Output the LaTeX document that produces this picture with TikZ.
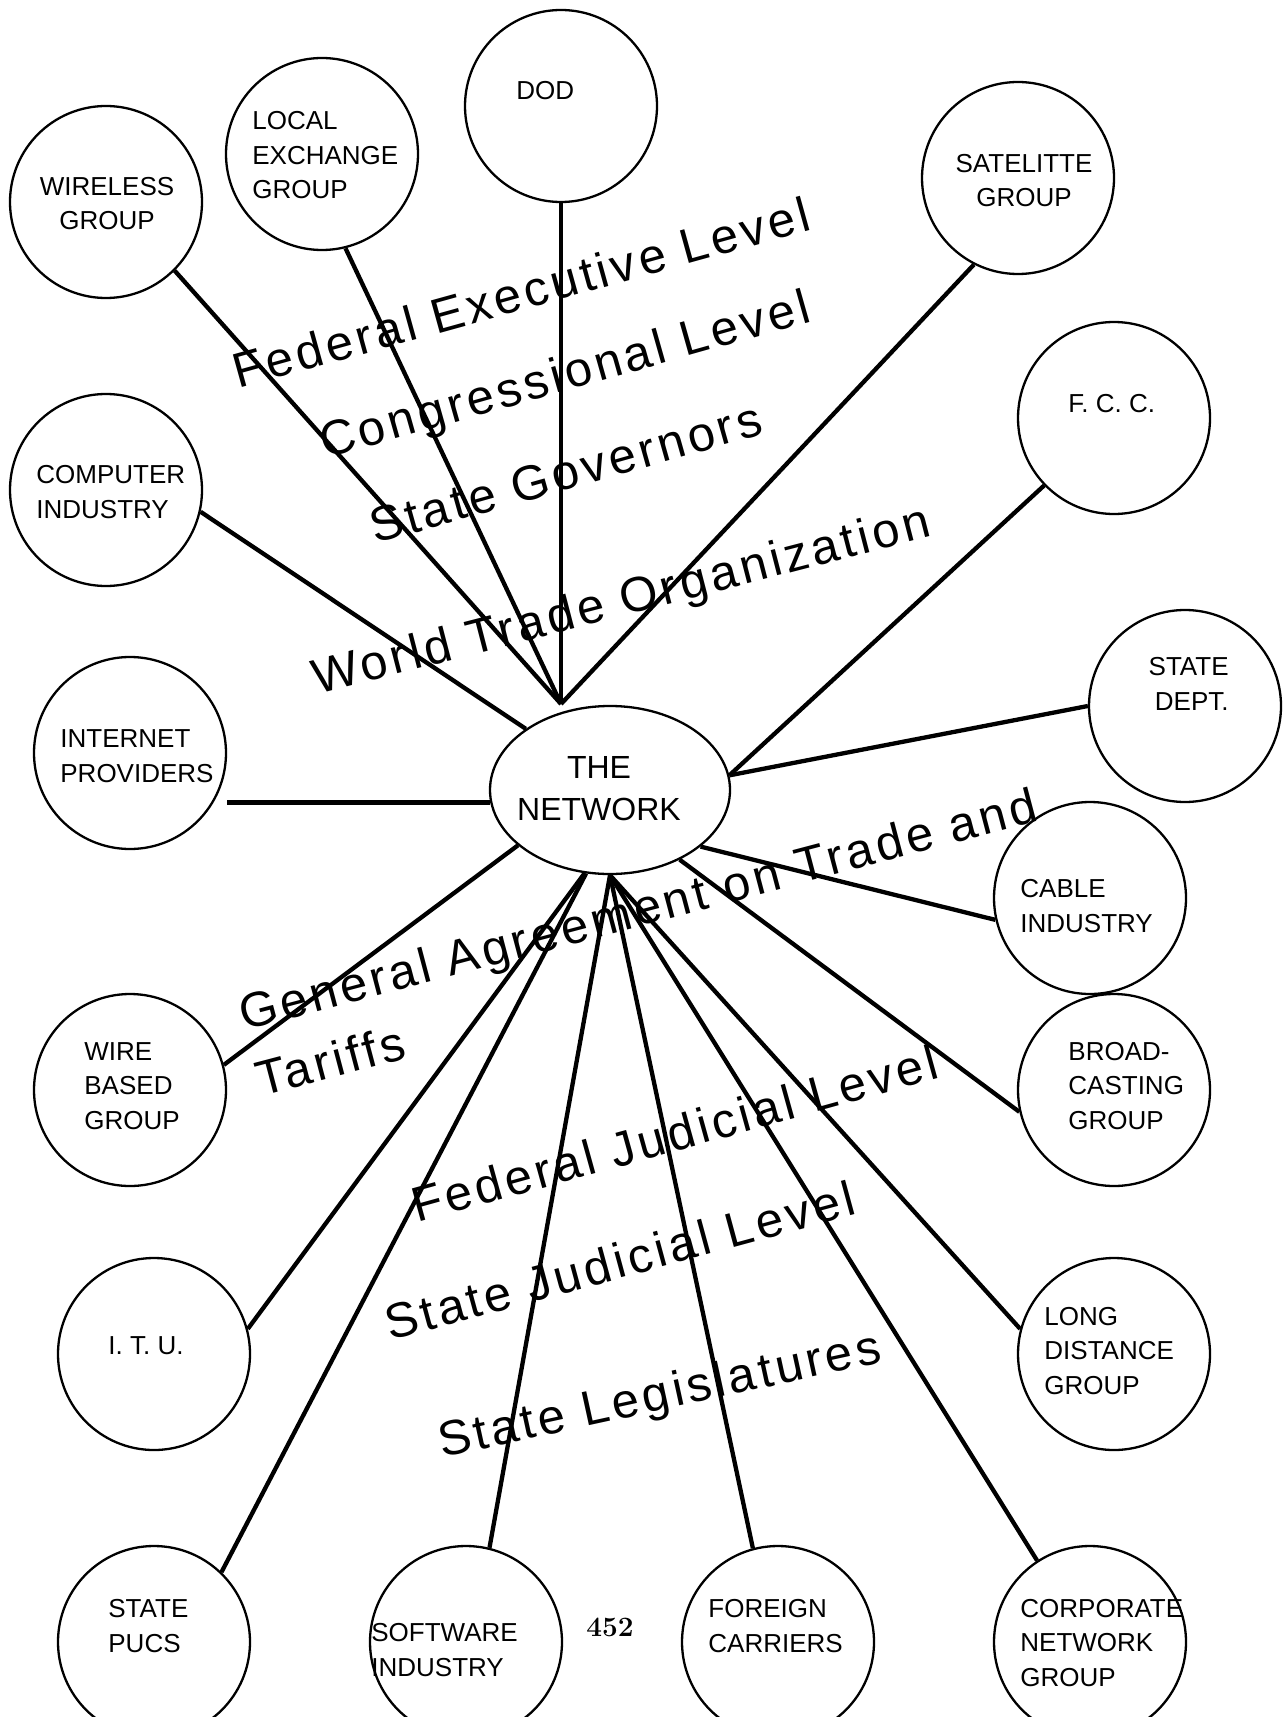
\documentclass[tikz,border=0pt]{standalone}
\usepackage{fontspec}
\newfontfamily\orgfont{Liberation Sans}
\newfontfamily\levelfont{Liberation Sans}[LetterSpace=7.5]
\usetikzlibrary{shapes.geometric}
\begin{document}
\begin{tikzpicture}[x=0.5pt,y=-0.5pt,
  org/.style={circle,draw,line width=1.15pt,minimum size=96pt,inner sep=0pt},
  orgtext/.style={font=\orgfont\fontsize{13}{17.25}\selectfont,align=left,inner sep=0pt,anchor=base west},
  link/.style={line width=2.15pt},
  levels/.style={font=\levelfont\fontsize{24.5}{34}\selectfont,inner sep=0pt,anchor=base west}]
\useasboundingbox (0,0) rectangle (1286,1717);
\node[org] (wireless) at (106,202) {};
\node[org] (local) at (322,154) {};
\node[org] (dod) at (561,106) {};
\node[org] (satellite) at (1018,178) {};
\node[org] (fcc) at (1114,418) {};
\node[org] (statedept) at (1185,706) {};
\node[org] (computer) at (106,490) {};
\node[org] (internet) at (130,753) {};
\node[ellipse,draw,line width=1.15pt,minimum width=120pt,minimum height=84pt,inner sep=0pt] (net) at (610,790) {};
\node[org] (cable) at (1090,898) {};
\node[org] (wire) at (130,1090) {};
\node[org] (broadcast) at (1114,1090) {};
\node[org] (itu) at (154,1354) {};
\node[org] (longdist) at (1114,1354) {};
\node[org] (pucs) at (154,1642) {};
\node[org] (software) at (466,1642) {};
\node[org] (foreign) at (778,1642) {};
\node[org] (corporate) at (1090,1642) {};
\coordinate (hub) at (561,704);

\node[orgtext,align=center,anchor=base] (wirelesstxt) at (107,230) {WIRELESS\\GROUP};
\node[orgtext] (localtxt) at (252,199) {LOCAL\\EXCHANGE\\GROUP};
\node[orgtext] (dodtxt) at (516,100) {DOD};
\node[orgtext,align=center,anchor=base] (satellitetxt) at (1024,207) {SATELITTE\\GROUP};
\node[orgtext] (fcctxt) at (1068,412) {F. C. C.};
\node[orgtext,align=right,anchor=base east] (statedepttxt) at (1229,710) {STATE\\DEPT.};
\node[orgtext] (computertxt) at (36,518) {COMPUTER\\INDUSTRY};
\node[orgtext] (internettxt) at (60,782) {INTERNET\\PROVIDERS};
\node[orgtext,font=\orgfont\fontsize{16}{21}\selectfont,align=center,anchor=base] (nettxt) at (599,820) {THE\\NETWORK};
\node[orgtext] (cabletxt) at (1020,932) {CABLE\\INDUSTRY};
\node[orgtext] (wiretxt) at (84,1129) {WIRE\\BASED\\GROUP};
\node[orgtext] (broadcasttxt) at (1068,1129) {BROAD-\\CASTING\\GROUP};
\node[orgtext] (itutxt) at (108,1354) {I. T. U.};
\node[orgtext] (longdisttxt) at (1044,1394) {LONG\\DISTANCE\\GROUP};
\node[orgtext] (pucstxt) at (108,1652) {STATE\\PUCS};
\node[orgtext] (softwaretxt) at (371,1676) {SOFTWARE\\INDUSTRY};
\node[orgtext] (foreigntxt) at (708,1652) {FOREIGN\\CARRIERS};
\node[orgtext] (corporatetxt) at (1020,1686) {CORPORATE\\NETWORK\\GROUP};
\node[font=\bfseries\fontsize{14}{16}\selectfont,inner sep=0pt,anchor=base] (page) at (610,1636) {452};

\draw[link] (wireless.-45) -- (hub);
\draw[link] (local.-76) -- (hub);
\draw[link] (dod.south) -- (hub);
\draw[link] (satellite.243) -- (hub);
\draw[link] (computer.-13) -- (net.144);
\draw[link] (net.186) -- (net.186 -| internet.east);
\draw[link] (fcc.224) -- (net.7);
\draw[link] (statedept.west) -- (net.7);
\draw[link] (cable.193) -- (net.-32);
\draw[link] (broadcast.193) -- (net.-45);
\draw[link] (wire.15) -- (net.211);
\draw[link] (itu.15) -- (net.-107);
\draw[link] (pucs.46) -- (net.-106);
\draw[link] (software.76) -- (net.south);
\draw[link] (foreign.105) -- (net.south);
\draw[link] (longdist.165) -- (net.south);
\draw[link] (corporate.123) -- (net.south);

\node[levels,rotate=15.5] (fedexec) at (238,389) {Federal Executive Level};
\node[levels,rotate=15.8] (congress) at (325,459) {Congressional Level};
\node[levels,rotate=15.8] (governors) at (375,544) {State Governors};
\node[levels,rotate=14.5] (wto) at (317,695) {World Trade Organization};
\node[levels,rotate=14.8] (gatt) at (244,1031) {General Agreement on Trade and};
\node[levels,rotate=14.8] (tariffs) at (261,1097) {Tariffs};
\node[levels,rotate=15.5] (fedjud) at (417,1223) {Federal Judicial Level};
\node[levels,rotate=15.2] (statejud) at (390,1341) {State Judicial Level};
\node[levels,rotate=12.3] (legis) at (442,1458) {State Legislatures};
\end{tikzpicture}
\end{document}
